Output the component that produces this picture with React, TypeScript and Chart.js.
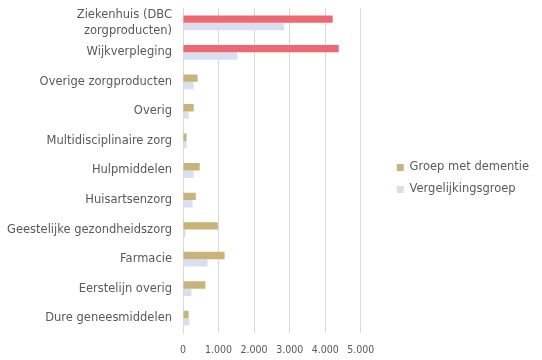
import React, { useEffect, useRef } from "react";
import { Chart, registerables } from "chart.js";

Chart.register(...registerables);

const categories: (string | string[])[] = [
  ["Ziekenhuis (DBC", "zorgproducten)"],
  "Wijkverpleging",
  "Overige zorgproducten",
  "Overig",
  "Multidisciplinaire zorg",
  "Hulpmiddelen",
  "Huisartsenzorg",
  "Geestelijke gezondheidszorg",
  "Farmacie",
  "Eerstelijn overig",
  "Dure geneesmiddelen",
];

const dementieValues = [4210, 4380, 410, 300, 100, 470, 360, 980, 1170, 630, 160];
const vergelijkingValues = [2840, 1530, 300, 160, 100, 300, 270, 70, 690, 240, 180];

const seriesNames = ["Groep met dementie", "Vergelijkingsgroep"];
const xTicks = [0, 1000, 2000, 3000, 4000, 5000];

const TAN = "#C8B47A";
const RED = "#EE6872";
const LAV = "#D9DFF1";
const TEXT = "#595959";
const FONT = "'DejaVu Sans', sans-serif";
const FONT_NUM = "'DejaVu Sans Condensed', 'DejaVu Sans', sans-serif";
const FS = 11.5;
const LEGEND_GAP = 25.5;
const LEGEND_RAISE = 4;

const legendShift = {
  id: "legendShift",
  beforeLayout(chart: any) {
    const lg = chart.legend;
    if (lg && !lg.__patched) {
      const orig = lg.fit.bind(lg);
      lg.fit = function () {
        orig();
        this.width += LEGEND_GAP;
      };
      lg.__patched = true;
    }
  },
  afterLayout(chart: any) {
    const lg = chart.legend;
    if (lg) {
      lg.left += LEGEND_GAP;
      lg.right += LEGEND_GAP;
      lg.top -= LEGEND_RAISE;
      lg.bottom -= LEGEND_RAISE;
    }
  },
};

export default function App() {
  const ref = useRef<HTMLCanvasElement | null>(null);
  useEffect(() => {
    if (!ref.current) return;
    const chart = new Chart(ref.current, {
      type: "bar",
      data: {
        labels: categories,
        datasets: [
          {
            label: seriesNames[0],
            data: dementieValues,
            backgroundColor: dementieValues.map((_, i) => (i < 2 ? RED : TAN)),
            categoryPercentage: 0.5,
            barPercentage: 1,
          },
          {
            label: seriesNames[1],
            data: vergelijkingValues,
            backgroundColor: LAV,
            categoryPercentage: 0.5,
            barPercentage: 1,
          },
        ],
      },
      options: {
        indexAxis: "y",
        animation: false,
        responsive: false,
        maintainAspectRatio: false,
        layout: { padding: { top: 8, right: 27, left: 0, bottom: 3 } },
        scales: {
          x: {
            min: xTicks[0],
            max: xTicks[xTicks.length - 1],
            afterBuildTicks: (axis: any) => {
              axis.ticks = xTicks.map((v) => ({ value: v }));
            },
            afterFit: (scale: any) => {
              scale.height = 24;
              scale.paddingLeft = 0;
              scale.paddingRight = 0;
            },
            grid: { color: "#D9D9D9", drawTicks: false },
            border: { display: false },
            ticks: {
              color: TEXT,
              font: { family: FONT_NUM, size: 10.5 },
              padding: 11,
              maxRotation: 0,
              autoSkip: false,
              callback: (v: any) => Number(v).toLocaleString("nl-NL"),
            },
          },
          y: {
            afterFit: (scale: any) => {
              scale.width = 183;
              scale.paddingTop = 0;
              scale.paddingBottom = 0;
            },
            grid: { display: false, drawTicks: false },
            border: { display: true, color: "#D9D9D9" },
            ticks: {
              color: TEXT,
              font: { family: FONT, size: FS, lineHeight: 1.4 },
              padding: 11,
              autoSkip: false,
            },
          },
        },
        plugins: {
          legend: {
            position: "right",
            labels: {
              color: TEXT,
              font: { family: FONT, size: FS },
              boxWidth: 7,
              boxHeight: 7,
              padding: 10.5,
              generateLabels: () =>
                seriesNames.map((n, i) => ({
                  text: n,
                  fillStyle: i === 0 ? TAN : LAV,
                  strokeStyle: i === 0 ? TAN : LAV,
                  lineWidth: 0,
                  hidden: false,
                  datasetIndex: i,
                  fontColor: TEXT,
                })),
            },
          },
          tooltip: { enabled: false },
        },
      },
      plugins: [legendShift],
    });
    return () => chart.destroy();
  }, []);
  return (
    <div style={{ position: "fixed", left: 0, top: 0, width: 542, height: 360, background: "#fff" }}>
      <canvas ref={ref} width={542} height={360} style={{ width: 542, height: 360 }} />
    </div>
  );
}
